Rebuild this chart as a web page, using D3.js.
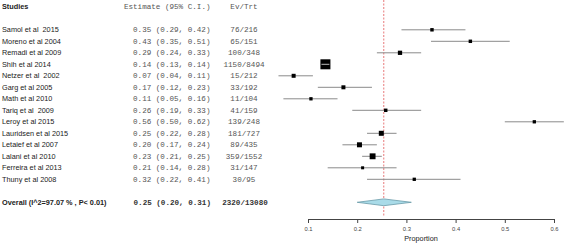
<!DOCTYPE html>
<html><head><meta charset="utf-8">
<script src="https://cdn.jsdelivr.net/npm/d3@7"></script>
<style>
html,body{margin:0;padding:0;background:#fff;}
svg{display:block;}
text{white-space:pre;}
</style></head>
<body>
<svg id="c" width="567" height="244"></svg>
<script>
// ---- data ----
const studies = ["Samol et al  2015","Moreno et al 2004","Remadi et al 2009","Shih et al 2014","Netzer et al  2002","Garg et al 2005","Math et al 2010","Tariq et al  2009","Leroy et al 2015","Lauridsen et al 2015","Letaief et al 2007","Lalani et al 2010","Ferreira et al 2013","Thuny et al 2008"];
const estimate = [0.352,0.430,0.287,0.1354,0.0708,0.172,0.106,0.258,0.560,0.249,0.2046,0.2313,0.211,0.316];
const lower = [0.29,0.35,0.24,0.13,0.04,0.12,0.05,0.19,0.50,0.22,0.17,0.21,0.14,0.22];
const upper = [0.42,0.51,0.33,0.14,0.11,0.23,0.16,0.33,0.62,0.28,0.24,0.25,0.28,0.41];
const events = [76,65,100,1150,15,33,11,41,139,181,89,359,31,30];
const totals = [216,151,348,8494,212,192,104,159,248,727,435,1552,147,95];
const weights = [6.5,6.5,10,55,8.8,8.8,6,6.5,6,13.7,13.7,19,5,6];
const overallLabel = "Overall (I^2=97.07 % , P< 0.01)";
const overallEst = 0.254, overallLow = 0.20, overallUp = 0.31;
const overallEvents = 2320, overallTotal = 13080;
const tickValues = [0.1,0.2,0.3,0.4,0.5,0.6];
const axisTitle = "Proportion";

// ---- layout ----
const svg = d3.select("#c");
const x = d3.scaleLinear().domain([0.1,0.6]).range([308,554]);
const y = d3.scaleLinear().domain([0,13]).range([29.8,179.3]);
const yOverall = 202.3;
const size = d3.scaleSqrt().domain([0,55]).range([0,10]);
const fmt = d3.format(".2f");
const sans = "Liberation Sans, Arial, sans-serif";
const mono = "Liberation Mono, Courier New, monospace";

// headers
svg.append("text").attr("x",2).attr("y",9).attr("font-family",sans).attr("font-size",7.3)
  .attr("font-weight","bold").attr("fill","#222").text("Studies");
svg.append("text").attr("x",210.5).attr("y",9).attr("font-family",mono).attr("font-size",7.6)
  .attr("text-anchor","end").attr("fill","#555").text("Estimate (95% C.I.)");
svg.append("text").attr("x",244).attr("y",9).attr("font-family",mono).attr("font-size",7.6)
  .attr("text-anchor","middle").attr("fill","#555").text("Ev/Trt");

// reference line
svg.append("line").attr("x1",x(overallEst)).attr("x2",x(overallEst)).attr("y1",0).attr("y2",217)
  .attr("stroke","#e8787a").attr("stroke-width",1).attr("stroke-dasharray","2,1.5");

const rows = svg.append("g").selectAll("g").data(studies).join("g");
rows.append("text").attr("x",2).attr("y",(d,i)=>y(i)+2.6).attr("font-family",sans).attr("font-size",7.3)
  .attr("fill","#222").text(d=>d);
rows.append("text").attr("x",210.5).attr("y",(d,i)=>y(i)+2.6).attr("font-family",mono).attr("font-size",7.6)
  .attr("text-anchor","end").attr("fill","#555")
  .text((d,i)=>`${fmt(estimate[i])} (${fmt(lower[i])}, ${fmt(upper[i])})`);
rows.append("text").attr("x",244).attr("y",(d,i)=>y(i)+2.6).attr("font-family",mono).attr("font-size",7.6)
  .attr("text-anchor","middle").attr("fill","#555").text((d,i)=>`${events[i]}/${totals[i]}`);

// CI lines (outside square)
rows.append("line").attr("x1",(d,i)=>x(lower[i])).attr("x2",(d,i)=>x(upper[i]))
  .attr("y1",(d,i)=>y(i)).attr("y2",(d,i)=>y(i)).attr("stroke","#8a8a8a").attr("stroke-width",1);
rows.append("rect")
  .attr("x",(d,i)=>x(estimate[i])-size(weights[i])/2)
  .attr("y",(d,i)=>y(i)-size(weights[i])/2)
  .attr("width",(d,i)=>size(weights[i])).attr("height",(d,i)=>size(weights[i]))
  .attr("fill","#000");
// CI inside square drawn in light colour on top
rows.filter((d,i)=> x(upper[i])-x(lower[i]) < size(weights[i]))
  .append("line").attr("x1",(d)=>{const i=studies.indexOf(d);return x(estimate[i])-size(weights[i])/2+1;})
  .attr("x2",(d)=>{const i=studies.indexOf(d);return x(estimate[i])+size(weights[i])/2-1;})
  .attr("y1",d=>y(studies.indexOf(d))).attr("y2",d=>y(studies.indexOf(d)))
  .attr("stroke","#bbb").attr("stroke-width",1);

// overall
svg.append("text").attr("x",2).attr("y",yOverall+2.6).attr("font-family",sans).attr("font-size",7.3)
  .attr("font-weight","bold").attr("fill","#222").text(overallLabel);
svg.append("text").attr("x",211).attr("y",yOverall+2.6).attr("font-family",mono).attr("font-size",7.6)
  .attr("font-weight","bold").attr("text-anchor","end").attr("fill","#333")
  .text(`${fmt(overallEst)} (${fmt(overallLow)}, ${fmt(overallUp)})`);
svg.append("text").attr("x",245).attr("y",yOverall+2.6).attr("font-family",mono).attr("font-size",7.6)
  .attr("font-weight","bold").attr("text-anchor","middle").attr("fill","#333")
  .text(`${overallEvents}/${overallTotal}`);
const dh = 3.4;
svg.append("path")
  .attr("d",`M${x(overallLow)},${yOverall}L${x(overallEst)},${yOverall-dh}L${x(overallUp)},${yOverall}L${x(overallEst)},${yOverall+dh}Z`)
  .attr("fill","#a9dbe8").attr("stroke","#6a9aa8").attr("stroke-width",0.8);

// axis
const axis = d3.axisBottom(x).tickValues(tickValues).tickSize(4).tickPadding(4).tickFormat(d3.format(".1f"));
const ag = svg.append("g").attr("transform","translate(0,219)").call(axis);
ag.select(".domain").attr("stroke","#444");
ag.selectAll(".tick line").attr("stroke","#444");
ag.selectAll(".tick text").attr("font-family",sans).attr("font-size",5.8).attr("fill","#444");
svg.append("text").attr("x",421).attr("y",241).attr("font-family",sans).attr("font-size",7.3)
  .attr("text-anchor","middle").attr("fill","#222").text(axisTitle);
</script>
</body></html>
